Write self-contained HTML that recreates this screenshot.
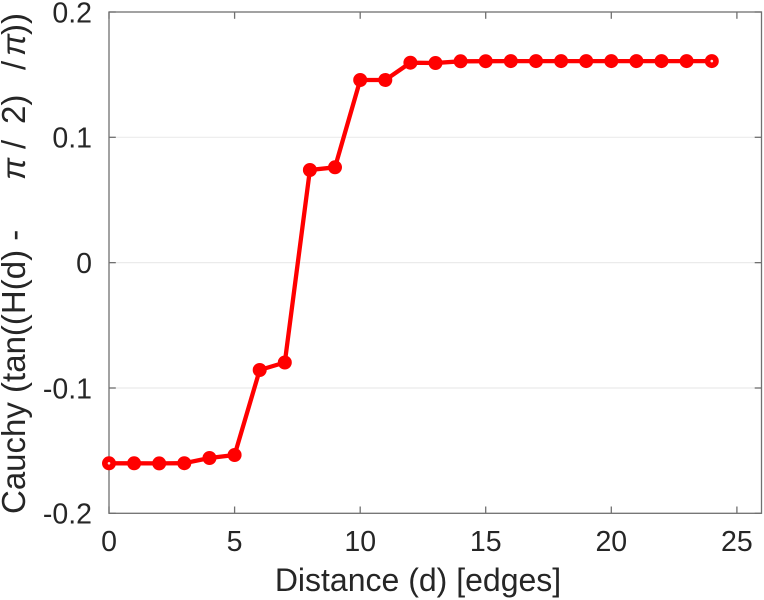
<!DOCTYPE html>
<html>
<head>
<meta charset="utf-8">
<style>
  html, body { margin: 0; padding: 0; background: #ffffff; }
  svg { display: block; }
  text { font-family: "Liberation Sans", "DejaVu Sans", sans-serif; fill: #262626; }
</style>
</head>
<body>
<svg width="764" height="600" viewBox="0 0 764 600" xmlns="http://www.w3.org/2000/svg">
  <rect x="0" y="0" width="764" height="600" fill="#ffffff"/>

  <!-- horizontal grid -->
  <g stroke="#ebebeb" stroke-width="1.2">
    <line x1="109" y1="137.3" x2="761.5" y2="137.3"/>
    <line x1="109" y1="262.65" x2="761.5" y2="262.65"/>
    <line x1="109" y1="388" x2="761.5" y2="388"/>
  </g>

  <!-- axes box -->
  <rect x="109" y="12" width="652.5" height="501.3" fill="none" stroke="#707070" stroke-width="1.3"/>

  <!-- ticks -->
  <g stroke="#707070" stroke-width="1.3">
    <line x1="109" y1="513.3" x2="109" y2="506.5"/>
    <line x1="234.6" y1="513.3" x2="234.6" y2="506.5"/>
    <line x1="360.2" y1="513.3" x2="360.2" y2="506.5"/>
    <line x1="485.7" y1="513.3" x2="485.7" y2="506.5"/>
    <line x1="611.3" y1="513.3" x2="611.3" y2="506.5"/>
    <line x1="736.9" y1="513.3" x2="736.9" y2="506.5"/>
    <line x1="109" y1="12" x2="109" y2="18.8"/>
    <line x1="234.6" y1="12" x2="234.6" y2="18.8"/>
    <line x1="360.2" y1="12" x2="360.2" y2="18.8"/>
    <line x1="485.7" y1="12" x2="485.7" y2="18.8"/>
    <line x1="611.3" y1="12" x2="611.3" y2="18.8"/>
    <line x1="736.9" y1="12" x2="736.9" y2="18.8"/>
    <line x1="109" y1="12" x2="115.8" y2="12"/>
    <line x1="109" y1="137.3" x2="115.8" y2="137.3"/>
    <line x1="109" y1="262.65" x2="115.8" y2="262.65"/>
    <line x1="109" y1="388" x2="115.8" y2="388"/>
    <line x1="109" y1="513.3" x2="115.8" y2="513.3"/>
    <line x1="761.5" y1="12" x2="754.7" y2="12"/>
    <line x1="761.5" y1="137.3" x2="754.7" y2="137.3"/>
    <line x1="761.5" y1="262.65" x2="754.7" y2="262.65"/>
    <line x1="761.5" y1="388" x2="754.7" y2="388"/>
    <line x1="761.5" y1="513.3" x2="754.7" y2="513.3"/>
  </g>

  <!-- y tick labels -->
  <g font-size="28.5" text-anchor="end">
    <text x="92" y="22.5">0.2</text>
    <text x="92" y="147.5">0.1</text>
    <text x="92" y="273">0</text>
    <text x="92" y="398.5">-0.1</text>
    <text x="92" y="523.5">-0.2</text>
  </g>

  <!-- x tick labels -->
  <g font-size="28.5" text-anchor="middle">
    <text x="109" y="551">0</text>
    <text x="234.6" y="551">5</text>
    <text x="360.2" y="551">10</text>
    <text x="485.7" y="551">15</text>
    <text x="611.3" y="551">20</text>
    <text x="736.9" y="551">25</text>
  </g>

  <!-- x label -->
  <text x="418" y="591" font-size="32" text-anchor="middle">Distance (d) [edges]</text>

  <!-- y label pieces (rotated) -->
  <g font-size="33">
    <text transform="translate(25,514) rotate(-90)">Cauchy (tan((H(d) -</text>
    <text transform="translate(25,180) rotate(-90)" font-style="italic">π</text>
    <text transform="translate(25,149) rotate(-90)">/</text>
    <text transform="translate(25,124) rotate(-90)">2)</text>
    <text transform="translate(25,70) rotate(-90)">/</text>
    <text transform="translate(25,56) rotate(-90)" font-style="italic">π</text>
    <text transform="translate(25,35) rotate(-90)">))</text>
  </g>

  <!-- series -->
  <polyline fill="none" stroke="#ff0000" stroke-width="4.3" stroke-linejoin="round" stroke-linecap="round"
    points="109,463.3 134.1,463.3 159.2,463.4 184.3,463.2 209.5,458 234.6,455 259.7,370 284.8,362.5 309.9,170 335,167.3 360.2,80 385.3,80 410.4,62.7 435.5,63 460.6,61.3 485.7,61.2 510.8,61.1 536,61.1 561.1,61.1 586.2,61.1 611.3,61.1 636.4,61.1 661.5,61.1 686.6,61.1 711.8,61.1"/>
  <g fill="#ff0000" stroke="#ff0000" stroke-width="1">
    <circle cx="109" cy="463.3" r="6.5"/>
    <circle cx="134.1" cy="463.3" r="6.5"/>
    <circle cx="159.2" cy="463.4" r="6.5"/>
    <circle cx="184.3" cy="463.2" r="6.5"/>
    <circle cx="209.5" cy="458" r="6.5"/>
    <circle cx="234.6" cy="455" r="6.5"/>
    <circle cx="259.7" cy="370" r="6.5"/>
    <circle cx="284.8" cy="362.5" r="6.5"/>
    <circle cx="309.9" cy="170" r="6.5"/>
    <circle cx="335" cy="167.3" r="6.5"/>
    <circle cx="360.2" cy="80" r="6.5"/>
    <circle cx="385.3" cy="80" r="6.5"/>
    <circle cx="410.4" cy="62.7" r="6.5"/>
    <circle cx="435.5" cy="63" r="6.5"/>
    <circle cx="460.6" cy="61.3" r="6.5"/>
    <circle cx="485.7" cy="61.2" r="6.5"/>
    <circle cx="510.8" cy="61.1" r="6.5"/>
    <circle cx="536" cy="61.1" r="6.5"/>
    <circle cx="561.1" cy="61.1" r="6.5"/>
    <circle cx="586.2" cy="61.1" r="6.5"/>
    <circle cx="611.3" cy="61.1" r="6.5"/>
    <circle cx="636.4" cy="61.1" r="6.5"/>
    <circle cx="661.5" cy="61.1" r="6.5"/>
    <circle cx="686.6" cy="61.1" r="6.5"/>
    <circle cx="711.8" cy="61.1" r="6.5"/>
  </g>
  <circle cx="109" cy="463.3" r="1.3" fill="#ffdddd"/>
  <circle cx="711.8" cy="61.1" r="1.3" fill="#ffdddd"/>
</svg>
</body>
</html>
